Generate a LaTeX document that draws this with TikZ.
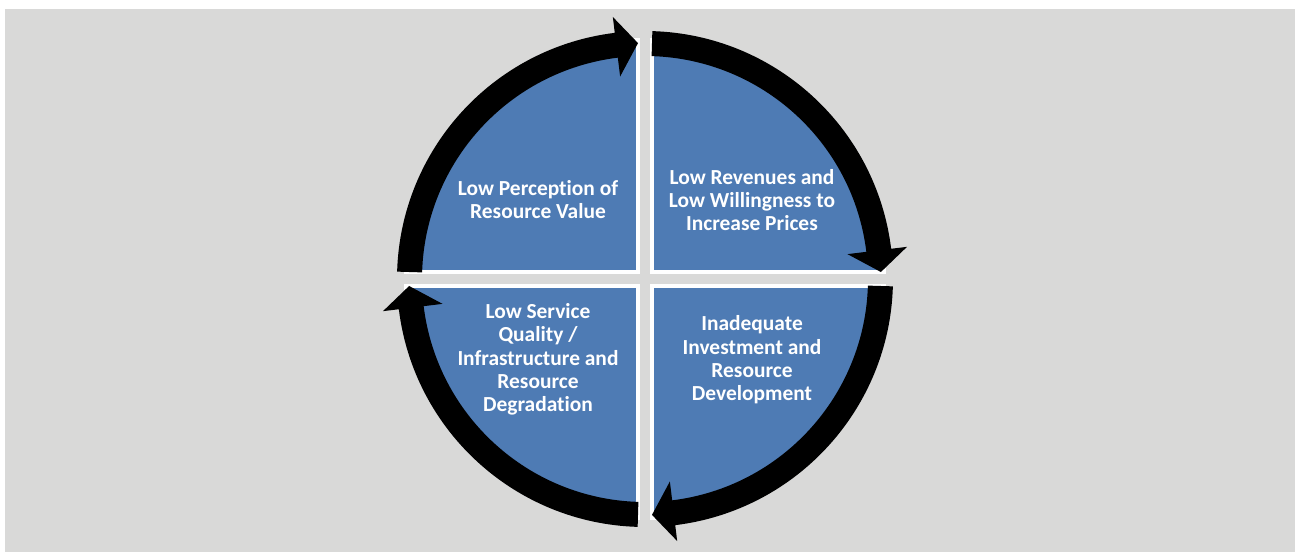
\documentclass[tikz,border=0pt]{standalone}
\usepackage{fontspec}
\setmainfont{Carlito}[Ligatures=NoCommon]
\definecolor{bg}{HTML}{D9D9D8}
\definecolor{quad}{HTML}{4E7BB4}
\begin{document}
\begin{tikzpicture}[x=0.02cm,y=0.02cm,
  quadrant/.style={fill=quad,draw=white,line width=2.2pt},
  cyclearrow/.style={fill=black},
  celltext/.style={text=white,font=\bfseries\fontsize{12.2}{13.3}\selectfont,align=center,inner sep=0pt}]
\useasboundingbox (0,0) rectangle (1295,552);
\fill[bg] (5,0) rectangle (1295,543);
\coordinate (C) at (645,273);
\begin{scope}[shift={(C)}]
  \draw[quadrant] (7,7) -- ++(232,0) arc[start angle=0,end angle=90,radius=232] -- cycle;
  \draw[quadrant] (-7,7) -- ++(0,232) arc[start angle=90,end angle=180,radius=232] -- cycle;
  \draw[quadrant] (-7,-7) -- ++(-232,0) arc[start angle=180,end angle=270,radius=232] -- cycle;
  \draw[quadrant] (7,-7) -- ++(0,-232) arc[start angle=270,end angle=360,radius=232] -- cycle;
  \foreach \s/\b/\t in {178.3/97/91.7, 88.3/7/1.7, -1.7/-83/-88.3, -91.7/-173/-178.3}
    \fill[cyclearrow] (\s:248) arc[start angle=\s,end angle=\b,radius=248] -- (\b:264) -- (\t:236) -- (\b:204) -- (\b:223) arc[start angle=\b,end angle=\s,radius=223] -- cycle;
\end{scope}
\node[celltext] (tl) at (538,352.5) {Low Perception of\\Resource Value};
\node[celltext] (tr) at (752,352) {Low Revenues and\\Low Willingness to\\Increase Prices};
\node[celltext] (bl) at (538,192.5) {Low Service\\Quality /\\Infrastructure and\\Resource\\Degradation};
\node[celltext] (br) at (752,192) {Inadequate\\Investment and\\Resource\\Development};
\end{tikzpicture}
\end{document}
